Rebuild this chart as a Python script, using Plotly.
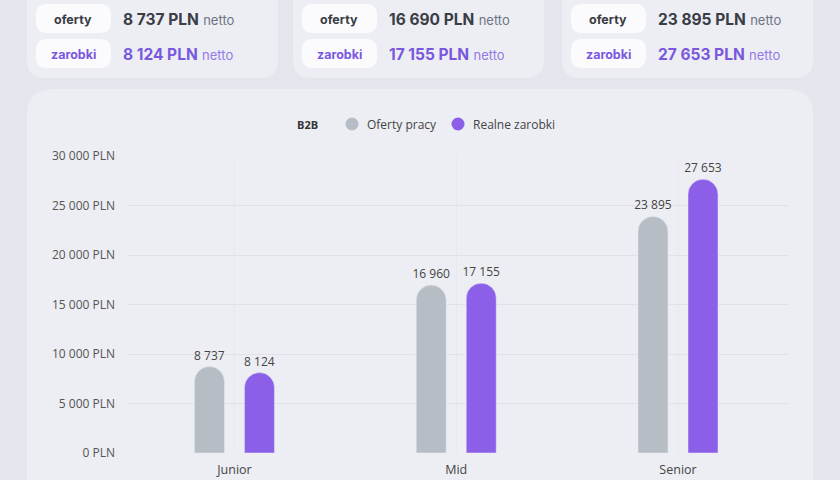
import plotly.graph_objects as go

# chart data
levels = ["Junior", "Mid", "Senior"]
offers = [8737, 16960, 23895]
earnings = [8124, 17155, 27653]

# summary cards (as printed on the page)
card_offers = [8737, 16690, 23895]
card_earnings = [8124, 17155, 27653]

series_names = ["Oferty pracy", "Realne zarobki"]
legend_title = "B2B"

W, H = 840, 480
ML, MR, MT, MB = 128, 52, 156, 27
PW, PH = W - ML - MR, H - MT - MB

GREY = "#b6bdc5"
PURPLE = "#8b5fe8"
BG = "#e3e6ec"
CARD = "#eceef3"
PILL = "#fbfbfd"
TXT = "#3a3d45"


def px(x):
    return (x - ML) / PW


def py(y):
    return (H - MB - y) / PH


def rrect(x0, y0, x1, y1, r):
    pts = [
        ("M", [(x0 + r, y0)]),
        ("L", [(x1 - r, y0)]),
        ("Q", [(x1, y0), (x1, y0 + r)]),
        ("L", [(x1, y1 - r)]),
        ("Q", [(x1, y1), (x1 - r, y1)]),
        ("L", [(x0 + r, y1)]),
        ("Q", [(x0, y1), (x0, y1 - r)]),
        ("L", [(x0, y0 + r)]),
        ("Q", [(x0, y0), (x0 + r, y0)]),
    ]
    s = ""
    for cmd, ps in pts:
        s += cmd + " " + " ".join(f"{px(a):.5f},{py(b):.5f}" for a, b in ps) + " "
    return s + "Z"


def fmt(v):
    return f"{v:,}".replace(",", " ")


def note(x, y, text, size, color, xanchor="center", family="Inter"):
    return dict(x=px(x), y=py(y), xref="paper", yref="paper",
                xanchor=xanchor, yanchor="middle", text=text,
                showarrow=False,
                font=dict(family=family, size=size, color=color))


fig = go.Figure()
fig.add_trace(go.Bar(
    x=levels, y=offers, name=series_names[0], marker_color=GREY,
    texttemplate="%{y:,}", textposition="outside",
))
fig.add_trace(go.Bar(
    x=levels, y=earnings, name=series_names[1], marker_color=PURPLE,
    texttemplate="%{y:,}", textposition="outside",
))
fig.update_traces(
    textfont=dict(family="Open Sans", size=12, color="#444"),
    cliponaxis=False, showlegend=False, constraintext="none",
)

shapes = []
annotations = []

# summary cards at the top
card_x = [27, 293, 562]
for i, cx in enumerate(card_x):
    shapes.append(dict(type="path", path=rrect(cx, -30, cx + 251, 78, 18),
                       xref="paper", yref="paper", fillcolor=CARD,
                       line_width=0, layer="below"))
    for row, (label, val, col, yc) in enumerate([
        ("oferty", card_offers[i], TXT, 19),
        ("zarobki", card_earnings[i], "#7a58de", 54),
    ]):
        shapes.append(dict(type="path",
                           path=rrect(cx + 9, yc - 15, cx + 84, yc + 14, 11),
                           xref="paper", yref="paper", fillcolor=PILL,
                           line_width=0, layer="below"))
        annotations.append(note(cx + 46, yc, f"<b>{label}</b>", 12.5, col))
        netto_col = "#6f7484" if row == 0 else "#9479e6"
        annotations.append(note(
            cx + 94, yc,
            f"<b>{fmt(val)} PLN</b> "
            f"<span style='font-size:13px;color:{netto_col}'>netto</span>",
            15.5, col, xanchor="left"))

# main chart card
shapes.append(dict(type="path", path=rrect(27, 89, 813, 540, 26),
                   xref="paper", yref="paper", fillcolor=CARD,
                   line_width=0, layer="below"))

# legend
annotations.append(note(307, 124, f"<b>{legend_title}</b>", 11, "#333",
                        family="Open Sans"))
for cxl, col, tx, name in [(352, GREY, 365, series_names[0]),
                           (458, PURPLE, 471, series_names[1])]:
    shapes.append(dict(type="circle", xref="paper", yref="paper",
                       x0=px(cxl - 6.5), x1=px(cxl + 6.5),
                       y0=py(124 + 6.5), y1=py(124 - 6.5),
                       fillcolor=col, line_width=0))
    annotations.append(note(tx, 124, name, 12, "#444", xanchor="left",
                            family="Open Sans"))

fig.update_layout(
    width=W, height=H,
    margin=dict(l=ML, r=MR, t=MT, b=MB),
    paper_bgcolor=BG,
    plot_bgcolor="rgba(0,0,0,0)",
    separators=". ",
    barmode="group",
    bargap=0.549,
    bargroupgap=0.40,
    barcornerradius="50%",
    font=dict(family="Open Sans", size=12, color="#444"),
    shapes=shapes,
    annotations=annotations,
)
fig.update_xaxes(
    range=[-0.48, 2.496], showgrid=True, gridcolor="#e7e9ef",
    showline=False, zeroline=False, ticks="", ticklabelstandoff=7,
    automargin=False,
    tickfont=dict(family="Open Sans", size=12.5, color="#444"),
)
fig.update_yaxes(
    range=[0, 30000], dtick=5000, tickformat=",", ticksuffix=" PLN",
    showgrid=True, gridcolor="#e0e2e8", zeroline=False, showline=False,
    ticks="", ticklabelstandoff=12, automargin=False,
    tickfont=dict(family="Open Sans", size=12, color="#555"),
)

fig.write_html("out.html", config={"displayModeBar": False},
               post_script="document.body.style.margin='0';")
